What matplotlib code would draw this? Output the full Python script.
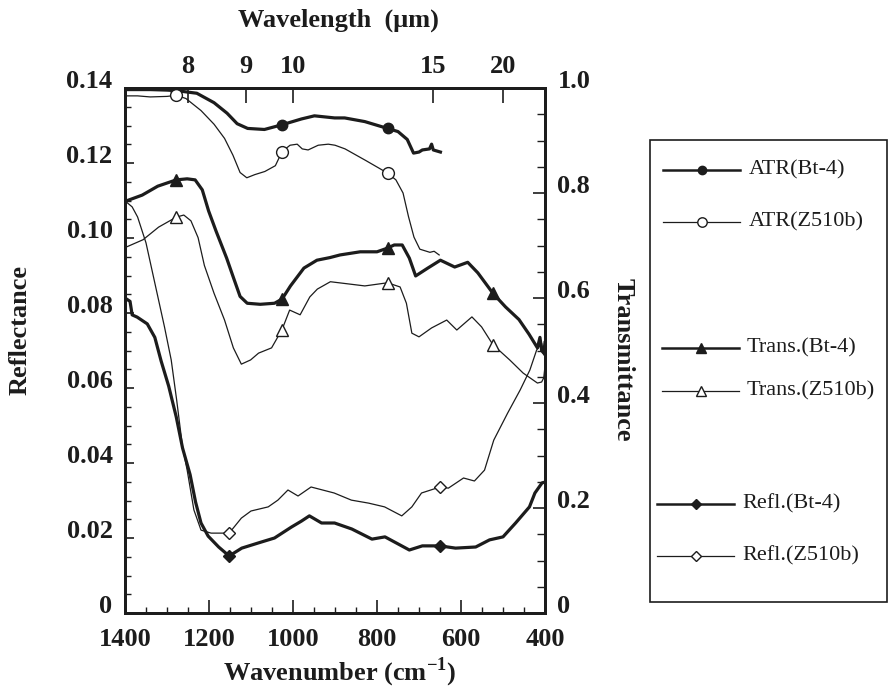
import numpy as np
import matplotlib
matplotlib.use('Agg')
import matplotlib.pyplot as plt
from matplotlib.lines import Line2D
from matplotlib.patches import Rectangle
from matplotlib.ticker import MultipleLocator

plt.rcParams['font.family'] = ['Liberation Serif', 'DejaVu Serif']
plt.rcParams['mathtext.fontset'] = 'custom'
plt.rcParams['mathtext.rm'] = 'Liberation Serif:bold'
plt.rcParams['mathtext.bf'] = 'Liberation Serif:bold'

# ---------------- data (wavenumber in cm-1) ----------------
ATR_BT4_WN = [1400, 1340, 1300, 1278, 1229, 1188, 1157, 1133, 1108, 1068, 1026, 980, 949, 901,
              877, 829, 775, 750, 728, 713, 700, 692, 675, 670, 666, 649]
ATR_BT4 = [0.997, 0.997, 0.996, 0.995, 0.990, 0.972, 0.952, 0.932, 0.923, 0.921, 0.930, 0.941,
           0.947, 0.943, 0.943, 0.936, 0.923, 0.917, 0.902, 0.876, 0.878, 0.882, 0.884, 0.893,
           0.882, 0.878]
ATR_BT4_MARKS = [1278, 1026, 775]

ATR_Z5_WN = [1400, 1370, 1340, 1300, 1278, 1255, 1219, 1188, 1163, 1143, 1126, 1110, 1091, 1067,
             1042, 1026, 1007, 990, 978, 964, 940, 916, 900, 876, 827, 775, 755, 738, 725, 712,
             698, 674, 664, 652]
ATR_Z5 = [0.985, 0.985, 0.983, 0.984, 0.986, 0.980, 0.957, 0.931, 0.904, 0.872, 0.839, 0.829,
          0.835, 0.841, 0.852, 0.879, 0.891, 0.893, 0.884, 0.882, 0.891, 0.893, 0.891, 0.884,
          0.862, 0.838, 0.825, 0.800, 0.755, 0.716, 0.693, 0.687, 0.689, 0.682]
ATR_Z5_MARKS = [1278, 1026, 775]

TR_BT4_WN = [1400, 1359, 1322, 1278, 1252, 1233, 1216, 1201, 1183, 1158, 1141, 1126, 1109, 1078,
             1044, 1026, 1006, 974, 943, 912, 888, 840, 800, 775, 759, 740, 723, 708, 679, 649,
             615, 584, 560, 524, 494, 462, 438, 418, 412, 408, 403, 400]
TR_BT4 = [0.784, 0.796, 0.813, 0.825, 0.827, 0.825, 0.806, 0.766, 0.727, 0.676, 0.637, 0.603,
          0.590, 0.588, 0.590, 0.598, 0.623, 0.657, 0.672, 0.677, 0.682, 0.688, 0.688, 0.695,
          0.701, 0.701, 0.676, 0.642, 0.657, 0.672, 0.659, 0.668, 0.648, 0.609, 0.583, 0.559,
          0.531, 0.505, 0.525, 0.500, 0.495, 0.515]
TR_BT4_MARKS = [1278, 1026, 775, 524]

TR_Z5_WN = [1400, 1357, 1320, 1278, 1260, 1243, 1226, 1211, 1188, 1163, 1142, 1123, 1101, 1082,
            1051, 1026, 1008, 983, 960, 942, 911, 870, 829, 775, 745, 730, 717, 700, 670, 634,
            610, 574, 551, 524, 484, 452, 418, 408, 403, 400]
TR_Z5 = [0.696, 0.711, 0.735, 0.754, 0.758, 0.747, 0.715, 0.662, 0.609, 0.558, 0.505, 0.474,
         0.482, 0.495, 0.505, 0.540, 0.577, 0.568, 0.602, 0.617, 0.631, 0.627, 0.623, 0.629,
         0.621, 0.590, 0.533, 0.526, 0.543, 0.558, 0.539, 0.564, 0.545, 0.511, 0.482, 0.457,
         0.438, 0.440, 0.448, 0.470]
TR_Z5_MARKS = [1278, 1026, 775, 524]

RF_BT4_WN = [1400, 1388, 1383, 1371, 1347, 1329, 1314, 1296, 1278, 1263, 1245, 1232, 1219, 1202,
             1177, 1152, 1122, 1082, 1044, 1004, 980, 961, 932, 901, 860, 812, 781, 723, 692,
             650, 613, 565, 532, 500, 470, 437, 424, 407, 400]
RF_BT4 = [0.0840, 0.0831, 0.0795, 0.0789, 0.0771, 0.0735, 0.0672, 0.0605, 0.0523, 0.0440,
          0.0369, 0.0296, 0.0240, 0.0205, 0.0176, 0.0152, 0.0173, 0.0187, 0.0200, 0.0229,
          0.0245, 0.0259, 0.0240, 0.0240, 0.0224, 0.0197, 0.0203, 0.0168, 0.0179, 0.0179,
          0.0173, 0.0176, 0.0195, 0.0203, 0.0240, 0.0283, 0.0320, 0.0347, 0.0349]
RF_BT4_MARKS = [1152, 650]

RF_Z5_WN = [1400, 1383, 1370, 1350, 1329, 1306, 1290, 1277, 1263, 1252, 1236, 1219, 1195, 1152,
            1123, 1100, 1059, 1036, 1012, 988, 957, 902, 861, 820, 782, 741, 717, 694, 650, 630,
            594, 568, 544, 522, 489, 459, 436, 420, 408, 403, 400]
RF_Z5 = [0.1099, 0.1083, 0.1056, 0.0987, 0.0880, 0.0763, 0.0675, 0.0568, 0.0443, 0.0381,
         0.0275, 0.0221, 0.0213, 0.0213, 0.0253, 0.0272, 0.0283, 0.0301, 0.0328, 0.0312,
         0.0336, 0.0320, 0.0301, 0.0293, 0.0283, 0.0259, 0.0283, 0.0320, 0.0336, 0.0333,
         0.0360, 0.0352, 0.0381, 0.0461, 0.0533, 0.0595, 0.0648, 0.0701, 0.0720, 0.0688,
         0.0715]
RF_Z5_MARKS = [1152, 650]

X_TICKS = [1400, 1200, 1000, 800, 600, 400]
LEFT_TICKS = [0, 0.02, 0.04, 0.06, 0.08, 0.10, 0.12, 0.14]
LEFT_LABELS = ['0', '0.02', '0.04', '0.06', '0.08', '0.10', '0.12', '0.14']
RIGHT_TICKS = [0, 0.2, 0.4, 0.6, 0.8, 1.0]
RIGHT_LABELS = ['0', '0.2', '0.4', '0.6', '0.8', '1.0']
WL_TICKS = [8, 9, 10, 15, 20]  # micrometres

LEGEND_LABELS = ['ATR(Bt-4)', 'ATR(Z510b)', 'Trans.(Bt-4)', 'Trans.(Z510b)',
                 'Refl.(Bt-4)', 'Refl.(Z510b)']

# ---------------- figure ----------------
W, H = 890, 696
fig = plt.figure(figsize=(W / 100, H / 100), dpi=100)
L, R, T, B = 125, 545, 88, 613
ax = fig.add_axes([L / W, 1 - B / H, (R - L) / W, (B - T) / H])
ax2 = ax.twinx()
ax3 = ax.twiny()

K = '#1c1c1c'
THICK, THIN = 2.3, 0.9


def marks(wn, m):
    return [list(wn).index(v) for v in m]


styles = {
    'atr_bt4': dict(color=K, lw=THICK, marker='o', ms=7.5, mfc=K, mec=K),
    'atr_z5': dict(color=K, lw=THIN, marker='o', ms=8.5, mfc='white', mec=K, mew=1.0),
    'tr_bt4': dict(color=K, lw=THICK, marker='^', ms=8.5, mfc=K, mec=K),
    'tr_z5': dict(color=K, lw=THIN, marker='^', ms=8.5, mfc='white', mec=K, mew=1.0),
    'rf_bt4': dict(color=K, lw=THICK, marker='D', ms=6.5, mfc=K, mec=K),
    'rf_z5': dict(color=K, lw=THIN, marker='D', ms=6.5, mfc='white', mec=K, mew=1.0),
}

ax.plot(RF_BT4_WN, RF_BT4, markevery=marks(RF_BT4_WN, RF_BT4_MARKS), **styles['rf_bt4'])
ax.plot(RF_Z5_WN, RF_Z5, markevery=marks(RF_Z5_WN, RF_Z5_MARKS), **styles['rf_z5'])
ax2.plot(TR_BT4_WN, TR_BT4, markevery=marks(TR_BT4_WN, TR_BT4_MARKS), **styles['tr_bt4'])
ax2.plot(TR_Z5_WN, TR_Z5, markevery=marks(TR_Z5_WN, TR_Z5_MARKS), **styles['tr_z5'])
ax2.plot(ATR_BT4_WN, ATR_BT4, markevery=marks(ATR_BT4_WN, ATR_BT4_MARKS), **styles['atr_bt4'])
ax2.plot(ATR_Z5_WN, ATR_Z5, markevery=marks(ATR_Z5_WN, ATR_Z5_MARKS), **styles['atr_z5'])

for a in (ax, ax2, ax3):
    a.set_xlim(1400, 400)
    for sp in a.spines.values():
        sp.set_linewidth(2.0)
        sp.set_color(K)
ax.set_ylim(0, 0.14)
ax2.set_ylim(0, 1.0)
ax3.set_ylim(0, 0.14)

bold = dict(fontsize=19, fontweight='bold', color=K)

# bottom axis
ax.set_xticks(X_TICKS)
ax.set_xticklabels([str(v) for v in X_TICKS], **bold)
ax.xaxis.set_minor_locator(MultipleLocator(50))
ax.tick_params(axis='x', which='major', direction='in', length=9.5, width=1.2, pad=11, top=False, color=K)
ax.tick_params(axis='x', which='minor', direction='in', length=4.5, width=1.0, top=False, color=K)

# left axis
ax.set_yticks(LEFT_TICKS)
ax.set_yticklabels(LEFT_LABELS, **bold)
ax.yaxis.set_minor_locator(MultipleLocator(0.005))
ax.tick_params(axis='y', which='major', direction='in', length=6.5, width=1.2, pad=9, color=K)
ax.tick_params(axis='y', which='minor', direction='in', length=4.5, width=1.0, color=K)

# right axis
ax2.set_yticks(RIGHT_TICKS)
ax2.set_yticklabels(RIGHT_LABELS, **bold)
ax2.yaxis.set_minor_locator(MultipleLocator(0.05))
ax2.tick_params(axis='y', which='major', direction='in', length=8.5, width=1.2, pad=9, color=K)
ax2.tick_params(axis='y', which='minor', direction='in', length=5.5, width=1.0, color=K)

# top axis (wavelength)
ax3.set_xticks([1e4 / w for w in WL_TICKS])
ax3.set_xticklabels([str(w) for w in WL_TICKS], **bold)
ax3.tick_params(axis='x', which='major', direction='in', length=11, width=1.2, pad=7, color=K)
ax3.tick_params(axis='y', left=False, right=False, labelleft=False, labelright=False)
ax3.xaxis.set_minor_locator(plt.NullLocator())

for lab in ax.get_yticklabels() + ax2.get_yticklabels():
    lab.set_va('baseline')


def P(x, y):
    return (x / W, 1 - y / H)


fig.text(*P(340, 672), 'Wavenumber (cm$^{\\mathbf{-1}}$)', ha='center', va='center', **bold)
fig.text(*P(338, 20), 'Wavelength  (\u03bcm)', ha='center', va='center', **bold)
fig.text(*P(20, 330), 'Reflectance', ha='center', va='center', rotation=90, **bold)
fig.text(*P(623, 360), 'Transmittance', ha='center', va='center', rotation=-90, **bold)

# legend box
box_l, box_t, box_r, box_b = 650, 140, 887, 602
fig.add_artist(Rectangle(P(box_l, box_b), (box_r - box_l) / W, (box_b - box_t) / H,
                         transform=fig.transFigure, fill=False, lw=1.2, ec=K))
leg_rows = [(170, 663, 740, 749), (222, 663, 740, 749), (348, 662, 739, 747),
            (391, 662, 739, 747), (504, 657, 734, 742), (556, 657, 734, 742)]
leg_styles = ['atr_bt4', 'atr_z5', 'tr_bt4', 'tr_z5', 'rf_bt4', 'rf_z5']
for (yy, x0, x1, xt), key, lab in zip(leg_rows, leg_styles, LEGEND_LABELS):
    st = styles[key]
    fig.add_artist(Line2D([x0 / W, x1 / W], [1 - yy / H] * 2, transform=fig.transFigure,
                          color=K, lw=1.8 if st['lw'] > 1.5 else 0.9))
    fig.add_artist(Line2D([(x0 + x1) / 2 / W], [1 - yy / H], transform=fig.transFigure,
                          ls='none', marker=st['marker'], ms=st['ms'] * 0.8,
                          mfc=st['mfc'], mec=st['mec'], mew=1.0))
    fig.text(xt / W, 1 - yy / H, lab, ha='left', va='center', fontsize=16, color=K)

fig.savefig('out.png', dpi=100)
